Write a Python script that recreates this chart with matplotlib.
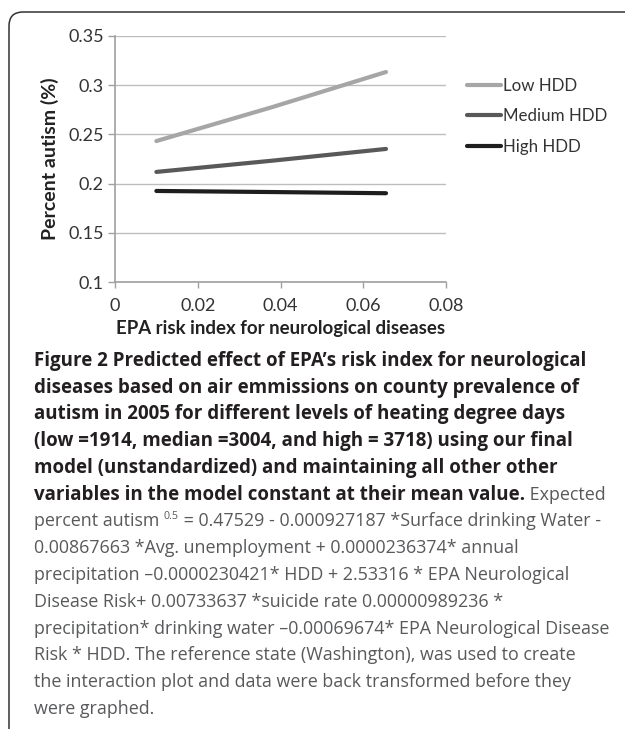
import matplotlib
matplotlib.use("Agg")
import matplotlib.pyplot as plt
from matplotlib.path import Path
from matplotlib.patches import PathPatch

# ---- data ----
x_risk = [0.01, 0.038, 0.0655]
low_hdd = [0.2432, 0.2776, 0.3132]
medium_hdd = [0.2119, 0.2233, 0.2352]
high_hdd = [0.1926, 0.1915, 0.1903]
series_names = ["Low HDD", "Medium HDD", "High HDD"]
series_colors = ["#a6a6a6", "#595959", "#1e1e1e"]
y_ticks = [0.1, 0.15, 0.2, 0.25, 0.3, 0.35]
y_tick_labels = ["0.1", "0.15", "0.2", "0.25", "0.3", "0.35"]
x_ticks = [0, 0.02, 0.04, 0.06, 0.08]
x_tick_labels = ["0", "0.02", "0.04", "0.06", "0.08"]
x_label = "EPA risk index for neurological diseases"
y_label = "Percent autism (%)"

caption = [
    [("Figure 2 Predicted effect of EPA\u2019s risk index for neurological", "b")],
    [("diseases based on air emmissions on county prevalence of", "b")],
    [("autism in 2005 for different levels of heating degree days", "b")],
    [("(low =1914, median =3004, and high = 3718) using our final", "b")],
    [("model (unstandardized) and maintaining all other other", "b")],
    [("variables in the model constant at their mean value.", "b"), (" Expected", "n")],
    [("percent autism ", "n"), ("0.5", "s"), (" = 0.47529 - 0.000927187 *Surface drinking Water -", "n")],
    [("0.00867663 *Avg. unemployment + 0.0000236374* annual", "n")],
    [("precipitation \u20130.0000230421* HDD + 2.53316 * EPA Neurological", "n")],
    [("Disease Risk+ 0.00733637 *suicide rate 0.00000989236 *", "n")],
    [("precipitation* drinking water \u20130.00069674* EPA Neurological Disease", "n")],
    [("Risk * HDD. The reference state (Washington), was used to create", "n")],
    [("the interaction plot and data were back transformed before they", "n")],
    [("were graphed.", "n")],
]

W, H = 625, 729
fig = plt.figure(figsize=(W / 100, H / 100), dpi=100)
fig.patch.set_facecolor("white")

chart_font = "Lato"
cap_font = "Open Sans"

ax = fig.add_axes([115 / W, 1 - 282.3 / H, (446 - 115) / W, (282.3 - 35.7) / H])
for ys, name, col in zip([low_hdd, medium_hdd, high_hdd], series_names, series_colors):
    ax.plot(x_risk, ys, color=col, lw=3.0, solid_capstyle="round", label=name)

ax.set_xlim(0, 0.08)
ax.set_ylim(0.1, 0.35)
ax.set_yticks(y_ticks)
ax.set_yticklabels(y_tick_labels, fontfamily=chart_font, fontsize=13, color="#333333")
ax.set_xticks(x_ticks)
ax.set_xticklabels(x_tick_labels, fontfamily=chart_font, fontsize=13, color="#333333")
ax.grid(axis="y", color="#bdbdbd", lw=1.0)
ax.set_axisbelow(True)
for s in ["top", "right"]:
    ax.spines[s].set_visible(False)
for s in ["left", "bottom"]:
    ax.spines[s].set_color("#a0a0a0")
    ax.spines[s].set_linewidth(1.2)
ax.tick_params(axis="y", length=5, width=1, color="#a0a0a0", pad=3)
ax.tick_params(axis="x", length=4, width=1, color="#a0a0a0", pad=7.5)
ax.set_xlabel(x_label, fontfamily=chart_font, fontweight="bold", fontsize=13.4, color="#222222", labelpad=4)
ax.set_ylabel(y_label, fontfamily=chart_font, fontweight="bold", fontsize=14, color="#222222", labelpad=7)

leg = ax.legend(loc="center left", bbox_to_anchor=(467 / W, 1 - 116.2 / H), bbox_transform=fig.transFigure,
                frameon=False, handlelength=2.0, handletextpad=0.15, labelspacing=0.85,
                borderpad=0, borderaxespad=0, prop={"family": chart_font, "size": 12.2})
for t in leg.get_texts():
    t.set_color("#333333")

# border with rounded top-left corner
r = 14
verts = [(9, H), (9, 12 + r), (9, 12), (9 + r, 12), (W + 2, 12)]
codes = [Path.MOVETO, Path.LINETO, Path.CURVE3, Path.CURVE3, Path.LINETO]
verts_fig = [(vx / W, 1 - vy / H) for vx, vy in verts]
fig.patches.append(PathPatch(Path(verts_fig, codes), transform=fig.transFigure, fill=False,
                             edgecolor="#333333", lw=1.1))

# caption
fig.canvas.draw()
renderer = fig.canvas.get_renderer()
x0 = 34
base0 = 366
step = 26.75
styles = {
    "b": dict(fontweight="bold", color="#231f20", fontsize=13.5, dy=0),
    "n": dict(fontweight="normal", color="#58595b", fontsize=12.9, dy=0),
    "s": dict(fontweight="normal", color="#58595b", fontsize=12.9 * 0.6, dy=-7.5),
}
for i, segs in enumerate(caption):
    xp = x0
    base = base0 + i * step
    for txt, st in segs:
        sd = styles[st]
        t = fig.text(xp / W, 1 - (base + sd["dy"]) / H, txt, fontfamily=cap_font,
                     fontweight=sd["fontweight"], color=sd["color"], fontsize=sd["fontsize"],
                     va="baseline", ha="left")
        bb = t.get_window_extent(renderer=renderer)
        xp += bb.width

fig.savefig("out.png", dpi=100, facecolor="white")
